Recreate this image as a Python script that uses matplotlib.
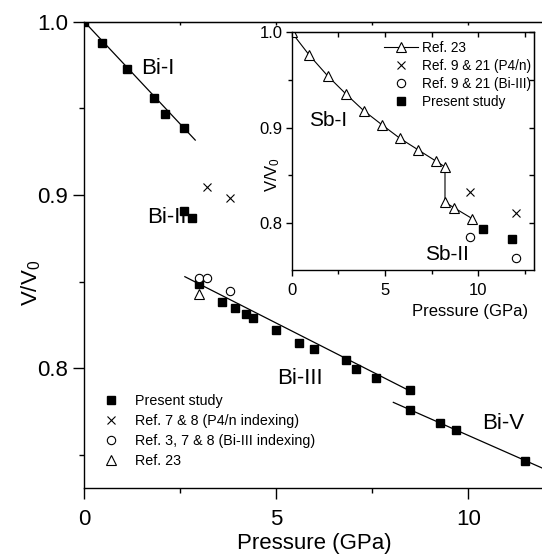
import numpy as np
import matplotlib
matplotlib.use('Agg')
import matplotlib.pyplot as plt
from matplotlib.ticker import MultipleLocator

plt.rcParams['font.family'] = ['Liberation Sans', 'DejaVu Sans']
plt.rcParams['mathtext.fontset'] = 'custom'
plt.rcParams['mathtext.rm'] = 'Liberation Sans'
plt.rcParams['mathtext.it'] = 'Liberation Sans:italic'

# Bi data (main panel)
bi_p = [0.0, 0.47, 1.10, 1.81, 2.09, 2.60, 2.60, 2.81, 3.00, 3.60, 3.92, 4.20, 4.40,
        5.00, 5.60, 5.99, 6.81, 7.09, 7.59, 8.48, 8.48, 9.26, 9.68, 11.48]
bi_v = [1.0, 0.9877, 0.9727, 0.9558, 0.9466, 0.9387, 0.891, 0.887, 0.8486, 0.8381, 0.8346,
        0.8312, 0.8289, 0.8221, 0.8144, 0.8111, 0.8046, 0.7994, 0.7946, 0.7873, 0.7759,
        0.7683, 0.7642, 0.7465]
ref78_p = [3.20, 3.79]
ref78_v = [0.9048, 0.8984]
ref378_p = [3.0, 3.2, 3.79]
ref378_v = [0.852, 0.8523, 0.8446]
ref23_bi_p = [3.0]
ref23_bi_v = [0.8429]

# fit lines
fit_bi1_p = [0.0, 2.89]
fit_bi1_v = [1.0, 0.9317]
fit_bi3_p = [2.62, 8.48]
fit_bi3_v = [0.8529, 0.7870]
fit_bi5_p = [8.05, 12.0]
fit_bi5_v = [0.7804, 0.7418]

# Sb data (inset)
sb23_p = [0.0, 0.95, 1.94, 2.93, 3.86, 4.85, 5.80, 6.77, 7.74, 8.22, 8.22, 8.69, 9.68]
sb23_v = [1.0, 0.976, 0.9542, 0.935, 0.918, 0.903, 0.889, 0.877, 0.865, 0.859, 0.822,
          0.8164, 0.8048]
sb921x_p = [9.54, 12.03]
sb921x_v = [0.833, 0.8105]
sb921o_p = [9.54, 12.03]
sb921o_v = [0.7853, 0.7633]
sb_p = [10.25, 11.83]
sb_v = [0.7937, 0.7839]

fig = plt.figure(figsize=(5.42, 5.56), dpi=100)
ax = fig.add_axes([0.1555, 0.1223, 0.850, 0.8387])

ax.plot(fit_bi1_p, fit_bi1_v, color='black', lw=0.9)
ax.plot(fit_bi3_p, fit_bi3_v, color='black', lw=0.9)
ax.plot(fit_bi5_p, fit_bi5_v, color='black', lw=0.9)
ax.plot(bi_p, bi_v, 's', color='black', ms=6, label='Present study')
ax.plot(ref78_p, ref78_v, 'x', color='black', ms=5.5, mew=0.8, label='Ref. 7 & 8 (P4/n indexing)')
ax.plot(ref378_p, ref378_v, 'o', mfc='white', mec='black', ms=6, mew=0.8,
        label='Ref. 3, 7 & 8 (Bi-III indexing)')
ax.plot(ref23_bi_p, ref23_bi_v, '^', mfc='white', mec='black', ms=6.5, mew=0.8, label='Ref. 23')

ax.text(1.92, 0.973, 'Bi-I', fontsize=16, ha='center', va='center')
ax.text(2.15, 0.887, 'Bi-II', fontsize=16, ha='center', va='center')
ax.text(5.63, 0.794, 'Bi-III', fontsize=16, ha='center', va='center')
ax.text(10.9, 0.768, 'Bi-V', fontsize=16, ha='center', va='center')

ax.set_xlim(0, 12)
ax.set_ylim(0.731, 1.0)
ax.xaxis.set_major_locator(MultipleLocator(5))
ax.xaxis.set_minor_locator(MultipleLocator(2.5))
ax.yaxis.set_major_locator(MultipleLocator(0.1))
ax.yaxis.set_minor_locator(MultipleLocator(0.05))
ax.tick_params(which='both', direction='out', labelsize=16, width=1)
ax.tick_params(which='major', length=8)
ax.tick_params(which='minor', length=3.5)
ax.tick_params(axis='x', which='major', pad=7)
for s in ax.spines.values():
    s.set_linewidth(1)
top = ax.secondary_xaxis('top')
top.set_xticks([2.5, 5, 7.5, 10])
top.tick_params(direction='in', length=2.5, width=1, labeltop=False)
ax.set_xlabel('Pressure (GPa)', fontsize=16, labelpad=2)
ax.set_ylabel('V/V$_0$', fontsize=16)
ax.yaxis.set_label_coords(-0.09, 0.44)

ax.legend(loc='upper left', bbox_to_anchor=(0.02, 0.216), frameon=False, fontsize=10.3,
          handlelength=1.5, handletextpad=0.9, labelspacing=0.4, borderpad=0)

# inset
ins = fig.add_axes([0.538, 0.5144, 0.4476, 0.4275])
ins.plot(sb23_p, sb23_v, '-^', color='black', mfc='white', mec='black', ms=6.5, mew=0.8,
         lw=0.8, label='Ref. 23')
ins.plot(sb921x_p, sb921x_v, 'x', color='black', ms=5.5, mew=0.8, label='Ref. 9 & 21 (P4/n)')
ins.plot(sb921o_p, sb921o_v, 'o', mfc='white', mec='black', ms=6, mew=0.8,
         label='Ref. 9 & 21 (Bi-III)')
ins.plot(sb_p, sb_v, 's', color='black', ms=6, label='Present study')

ins.text(1.97, 0.908, 'Sb-I', fontsize=15, ha='center', va='center')
ins.text(8.35, 0.767, 'Sb-II', fontsize=15, ha='center', va='center')

ins.set_xlim(0, 13)
ins.set_ylim(0.751, 1.0)
ins.xaxis.set_major_locator(MultipleLocator(5))
ins.xaxis.set_minor_locator(MultipleLocator(2.5))
ins.yaxis.set_major_locator(MultipleLocator(0.1))
ins.yaxis.set_minor_locator(MultipleLocator(0.05))
ins.tick_params(which='both', direction='out', labelsize=12, width=1, pad=2)
ins.tick_params(axis='x', which='both', pad=5)
ins.tick_params(which='major', length=4.5)
ins.tick_params(which='minor', length=3)
for s in ins.spines.values():
    s.set_linewidth(1)
sec_t = ins.secondary_xaxis('top')
sec_t.set_xticks([0, 2.5, 5, 7.5, 10, 12.5])
sec_t.tick_params(direction='in', length=3.5, width=1, labeltop=False)
sec_r = ins.secondary_yaxis('right')
sec_r.set_yticks([0.75, 0.8, 0.85, 0.9, 0.95, 1.0])
sec_r.tick_params(direction='in', length=3.5, width=1, labelright=False)
ins.set_xlabel('Pressure (GPa)', fontsize=12, labelpad=4, loc='right')
ins.xaxis.label.set_x(0.975)
ins.set_ylabel('V/V$_0$', fontsize=12)
ins.yaxis.set_label_coords(-0.04, 0.40)

ins.legend(loc='upper left', bbox_to_anchor=(0.354, 0.993), frameon=False, fontsize=9.8,
           handlelength=2.5, handletextpad=0.3, labelspacing=0.3, borderpad=0)

fig.savefig('out.png', dpi=100)
